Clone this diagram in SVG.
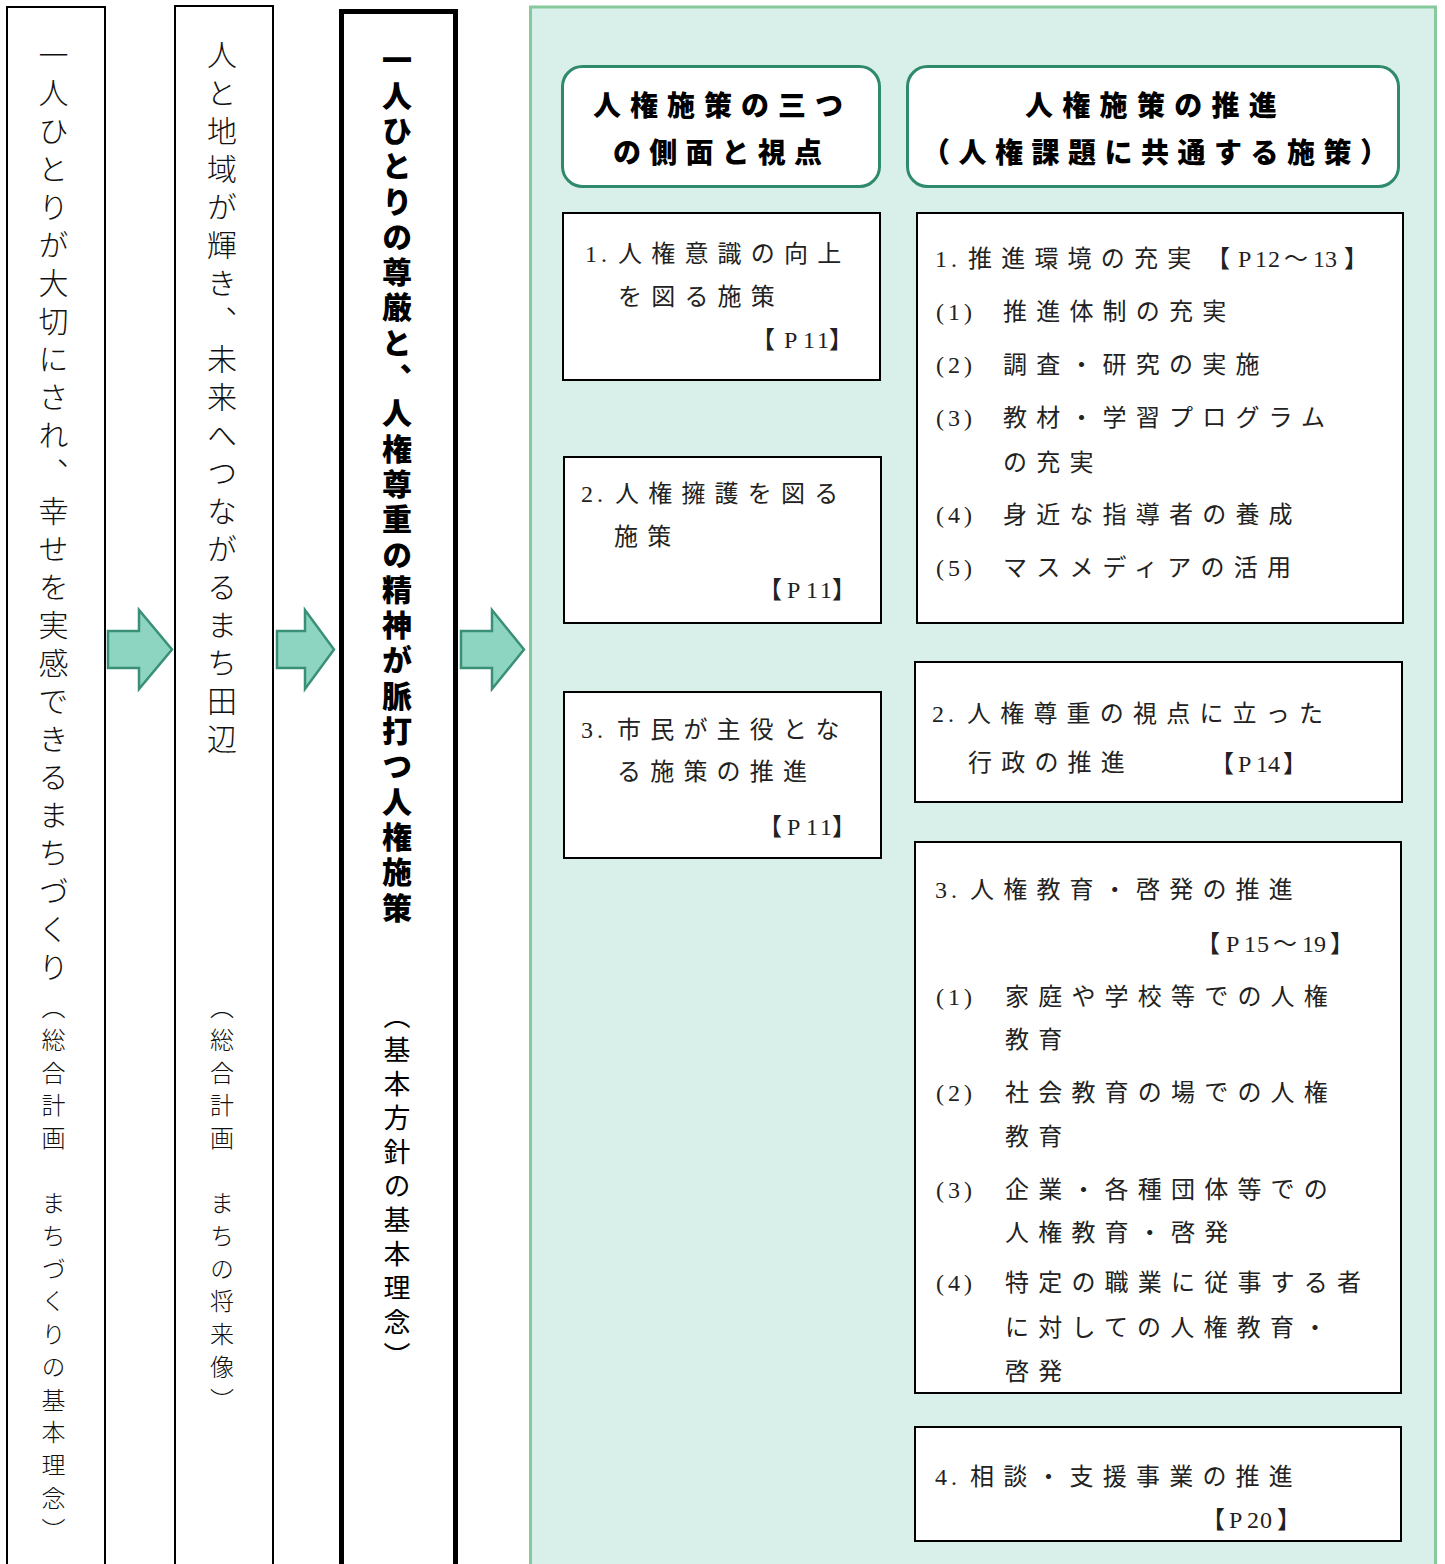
<svg xmlns="http://www.w3.org/2000/svg" width="1445" height="1564" viewBox="0 0 1445 1564">
<style>
.col{fill:#fff;stroke:#000;stroke-width:2}
.colb{fill:#fff;stroke:#000;stroke-width:5}
.panel{fill:#d9f0ea;stroke:#86c99c;stroke-width:3}
.hdr{fill:#fff;stroke:#2f8a6c;stroke-width:3}
.box{fill:#fff;stroke:#000;stroke-width:2}
.arrow{fill:#8dd5c0;stroke:#3a9077;stroke-width:2.5;stroke-linejoin:miter}
.v{font-family:"Noto Sans CJK JP",sans-serif;writing-mode:vertical-rl;fill:#111}
.vm{font-size:30px;letter-spacing:8px;font-weight:300}
.vs{font-size:24px;letter-spacing:8.7px;font-weight:300}
.vb{font-size:30px;letter-spacing:5.3px;font-weight:900;fill:#000}
.vbs{font-size:27px;letter-spacing:7px;font-weight:400;fill:#000}
.h{font-family:"Noto Sans CJK JP",sans-serif;font-size:28px;font-weight:900;fill:#000}
.t{font-family:"Liberation Serif","Noto Sans CJK JP",serif;font-size:24px;letter-spacing:9.2px;fill:#222}
.n{letter-spacing:4px}
</style>

<g id="col1">
<rect class="col" x="7" y="7" width="98" height="1600"/>
<text class="v vm" x="53.5" y="40">一人ひとりが大切にされ、幸せを実感できるまちづくり</text>
<text class="v vs" x="53.5" y="995">（総合計画　まちづくりの基本理念）</text>
</g>

<g id="col2">
<rect class="col" x="175" y="6" width="98" height="1600"/>
<text class="v vm" x="222" y="40">人と地域が輝き、未来へつながるまち田辺</text>
<text class="v vs" x="222" y="995">（総合計画　まちの将来像）</text>
</g>

<g id="col3">
<rect class="colb" x="341.5" y="11.5" width="114" height="1600"/>
<text class="v vb" x="397" y="45">一人ひとりの尊厳と、人権尊重の精神が脈打つ人権施策</text>
<text class="v vbs" x="397" y="1002">（基本方針の基本理念）</text>
</g>

<g id="connectors">
<polygon class="arrow" points="108,631 139,631 139,610 172,649.5 139,689 139,668 108,668"/>
<polygon class="arrow" points="277,631 305,631 305,610 334,649.5 305,689 305,668 277,668"/>
<polygon class="arrow" points="461,631 492,631 492,610 524,649.5 492,689 492,668 461,668"/>
</g>

<g id="panel">
<rect class="panel" x="530.5" y="7" width="905" height="1600"/>
</g>

<g id="header1">
<rect class="hdr" x="562.5" y="66.5" width="317" height="120" rx="20"/>
<text class="h" y="116" x="593" letter-spacing="9">人権施策の三つ</text>
<text class="h" y="163" x="613" letter-spacing="8.2">の側面と視点</text>
</g>

<g id="header2">
<rect class="hdr" x="907.5" y="66.5" width="491" height="120" rx="20"/>
<text class="h" y="116" x="1025" letter-spacing="9.3">人権施策の推進</text>
<text class="h" y="163" x="922" letter-spacing="8.5">（人権課題に共通する施策）</text>
</g>

<g id="box-l1">
<rect class="box" x="563" y="213" width="317" height="167"/>
<text class="t" y="262"><tspan class="n" x="585">1.</tspan><tspan x="618">人権意識の向上</tspan></text>
<text class="t" y="305" x="618">を図る施策</text>
<text class="t" y="348" x="751 784 803 817 829">【P11】</text>
</g>

<g id="box-l2">
<rect class="box" x="564" y="457" width="317" height="166"/>
<text class="t" y="502"><tspan class="n" x="581">2.</tspan><tspan x="615">人権擁護を図る</tspan></text>
<text class="t" y="545" x="614">施策</text>
<text class="t" y="598" x="758 787 806 820 832">【P11】</text>
</g>

<g id="box-l3">
<rect class="box" x="564" y="692" width="317" height="166"/>
<text class="t" y="738"><tspan class="n" x="581">3.</tspan><tspan x="617">市民が主役とな</tspan></text>
<text class="t" y="780" x="617">る施策の推進</text>
<text class="t" y="835" x="758 787 806 820 832">【P11】</text>
</g>

<g id="box-r1">
<rect class="box" x="917" y="213" width="486" height="410"/>
<text class="t" y="267"><tspan class="n" x="935">1.</tspan><tspan x="968">推進環境の充実</tspan></text>
<text class="t" y="267" x="1206 1238 1255 1268 1284 1313 1325 1344">【P12～13】</text>
<text class="t" y="320"><tspan class="n" x="936">(1)</tspan><tspan x="1003">推進体制の充実</tspan></text>
<text class="t" y="373"><tspan class="n" x="936">(2)</tspan><tspan x="1003">調査・研究の実施</tspan></text>
<text class="t" y="426"><tspan class="n" x="936">(3)</tspan><tspan x="1003">教材・学習プログラム</tspan></text>
<text class="t" y="471" x="1003">の充実</text>
<text class="t" y="523"><tspan class="n" x="936">(4)</tspan><tspan x="1003">身近な指導者の養成</tspan></text>
<text class="t" y="576"><tspan class="n" x="936">(5)</tspan><tspan x="1003">マスメディアの活用</tspan></text>
</g>

<g id="box-r2">
<rect class="box" x="915" y="662" width="487" height="140"/>
<text class="t" y="722"><tspan class="n" x="932">2.</tspan><tspan x="967">人権尊重の視点に立った</tspan></text>
<text class="t" y="771" x="968">行政の推進</text>
<text class="t" y="772" x="1210 1238 1256 1268 1283">【P14】</text>
</g>

<g id="box-r3">
<rect class="box" x="915" y="842" width="486" height="551"/>
<text class="t" y="898"><tspan class="n" x="935">3.</tspan><tspan x="970">人権教育・啓発の推進</tspan></text>
<text class="t" y="952" x="1196 1226 1244 1257 1273 1302 1314 1330">【P15～19】</text>
<text class="t" y="1005"><tspan class="n" x="936">(1)</tspan><tspan x="1005">家庭や学校等での人権</tspan></text>
<text class="t" y="1048" x="1005">教育</text>
<text class="t" y="1101"><tspan class="n" x="936">(2)</tspan><tspan x="1005">社会教育の場での人権</tspan></text>
<text class="t" y="1145" x="1005">教育</text>
<text class="t" y="1198"><tspan class="n" x="936">(3)</tspan><tspan x="1005">企業・各種団体等での</tspan></text>
<text class="t" y="1241" x="1005">人権教育・啓発</text>
<text class="t" y="1291"><tspan class="n" x="936">(4)</tspan><tspan x="1005">特定の職業に従事する者</tspan></text>
<text class="t" y="1336" x="1005">に対しての人権教育・</text>
<text class="t" y="1380" x="1005">啓発</text>
</g>

<g id="box-r4">
<rect class="box" x="915" y="1427" width="486" height="114"/>
<text class="t" y="1485"><tspan class="n" x="935">4.</tspan><tspan x="970">相談・支援事業の推進</tspan></text>
<text class="t" y="1528" x="1201 1229 1247 1260 1277">【P20】</text>
</g>
</svg>
